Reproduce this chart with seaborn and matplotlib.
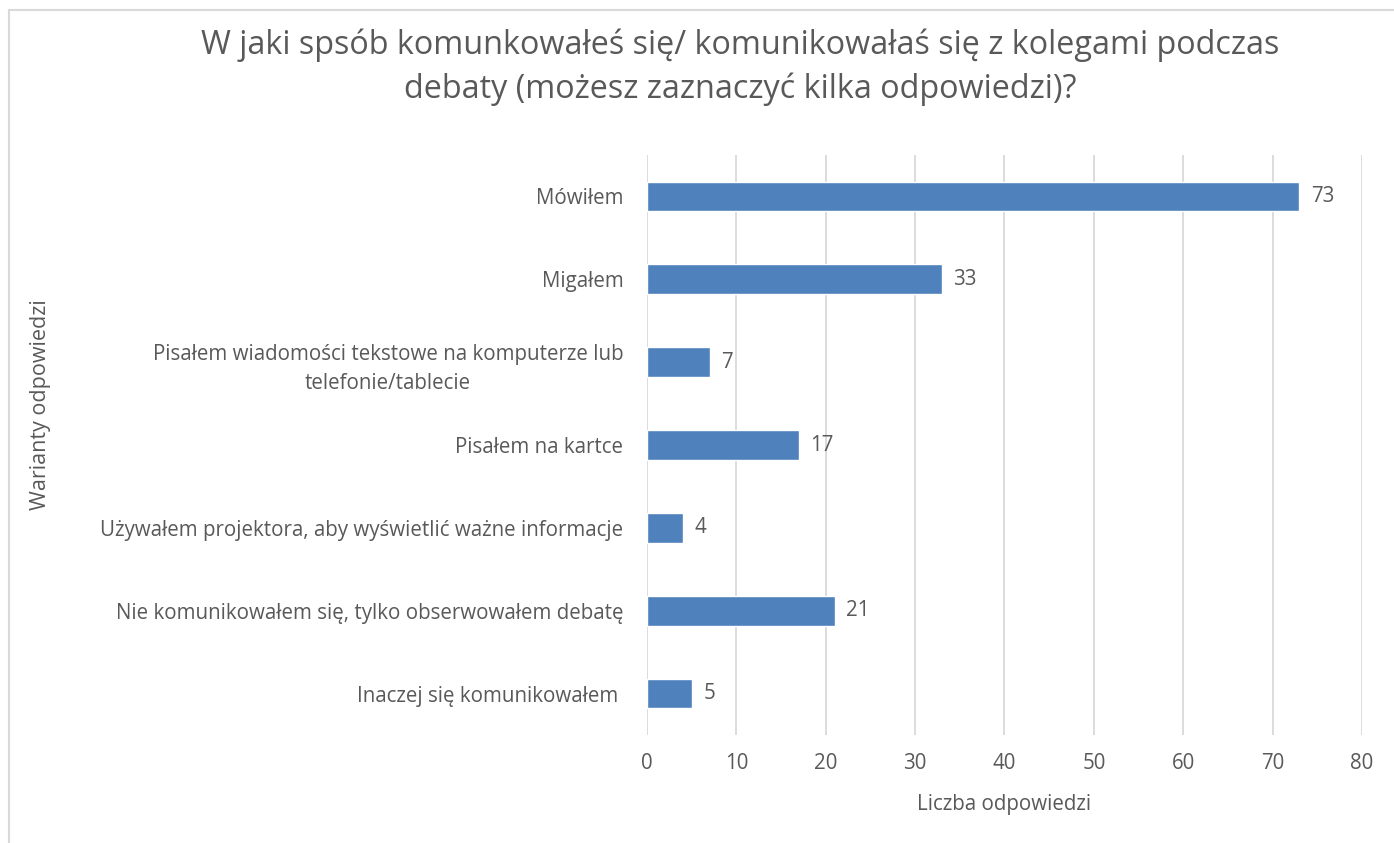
import pandas as pd
import seaborn as sns
import matplotlib.pyplot as plt
from matplotlib.patches import Rectangle

# dane z wykresu
kategorie = [
    'Mówiłem',
    'Migałem',
    'Pisałem wiadomości tekstowe na komputerze lub\ntelefonie/tablecie',
    'Pisałem na kartce',
    'Używałem projektora, aby wyświetlić ważne informacje',
    'Nie komunikowałem się, tylko obserwowałem debatę',
    'Inaczej się komunikowałem ',
]
liczby = [73, 33, 7, 17, 4, 21, 5]
ticki_x = [0, 10, 20, 30, 40, 50, 60, 70, 80]

df = pd.DataFrame({'Wariant': kategorie, 'Liczba': liczby})

sns.set_theme(style='white')
plt.rcParams['font.family'] = ['Open Sans', 'DejaVu Sans']
szary = '#595959'
fs = 14.8

fig = plt.figure(figsize=(13.94, 8.43), dpi=100)
ax = fig.add_axes([0.4641, 0.1281, 0.5129, 0.688])

sns.barplot(data=df, x='Liczba', y='Wariant', color='#4F81BD', saturation=1,
            width=0.36, ax=ax, zorder=3)

ax.set_xlim(0, 80)
ax.set_ylim(6.5, -0.5)
ax.set_xticks(ticki_x)
ax.grid(axis='x', color='#D9D9D9', linewidth=1.3, zorder=0)
ax.set_axisbelow(True)
for s in ax.spines.values():
    s.set_visible(False)
ax.tick_params(axis='both', length=0, labelsize=fs, labelcolor=szary)
ax.tick_params(axis='y', pad=17)
ax.tick_params(axis='x', pad=13)

for lbl in ax.get_yticklabels():
    lbl.set_horizontalalignment('right')
    lbl.set_multialignment('center')
    lbl.set_linespacing(1.55)

for i, v in enumerate(liczby):
    ax.text(v + 1.3, i, str(v), va='center', ha='left', fontsize=fs, color=szary)

ax.set_xlabel('Liczba odpowiedzi', fontsize=fs, color=szary, labelpad=14)
ax.set_ylabel('')
fig.text(0.029, 0.52, 'Warianty odpowiedzi', rotation=90, fontsize=15.5,
         color=szary, ha='center', va='center')

fig.text(0.531, 0.92,
         'W jaki spsób komunkowałeś się/ komunikowałaś się z kolegami podczas\n'
         'debaty (możesz zaznaczyć kilka odpowiedzi)?',
         ha='center', va='center', fontsize=23.3, color=szary, linespacing=1.4)

# ramka wykresu
fig.patches.append(Rectangle((0.0065, -0.1), 1.2, 1.088, transform=fig.transFigure,
                             fill=False, edgecolor='#D9D9D9', linewidth=1.5))

fig.savefig('out.png', dpi=100)
